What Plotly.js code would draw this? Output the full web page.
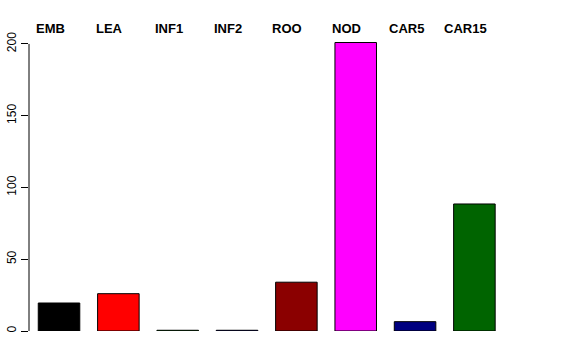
<!DOCTYPE html>
<html>
<head>
<meta charset="utf-8">
<script src="https://cdn.plot.ly/plotly-3.0.1.min.js"></script>
<style>html,body{margin:0;padding:0;background:#fff;}#chart{width:576px;height:360px;}</style>
</head>
<body>
<div id="chart"></div>
<script>
var categories = ["EMB", "LEA", "INF1", "INF2", "ROO", "NOD", "CAR5", "CAR15"];
var values = [19.5, 26, 0.5, 0.5, 34, 201, 6.5, 88.5];
var barColors = ["#000000", "#FF0000", "#00CD00", "#0000FF", "#8B0000", "#FF00FF", "#000080", "#006400"];
var yTicks = [0, 50, 100, 150, 200];

var xs = categories.map(function(_, i){ return i; });

var trace = {
  type: "bar",
  x: xs,
  y: values,
  width: 0.7,
  marker: {color: barColors, line: {color: "#000000", width: 1}},
  hoverinfo: "none"
};

var annotations = categories.map(function(c, i){
  return {
    x: i, y: 1, xref: "x", yref: "paper",
    text: "<b>" + c + "</b>", showarrow: false,
    xanchor: "center", yanchor: "middle", xshift: -9, yshift: 0,
    font: {family: "Liberation Sans, Arial, sans-serif", size: 13, color: "#000"}
  };
});

var layout = {
  width: 576, height: 360,
  margin: {l: 29, r: 66, t: 28, b: 29},
  paper_bgcolor: "#fff", plot_bgcolor: "#fff",
  showlegend: false,
  xaxis: {range: [-0.506, 7.6], showticklabels: false, showgrid: false, zeroline: false, showline: false, ticks: ""},
  yaxis: {
    range: [0, 211.1], tickvals: yTicks, ticktext: yTicks.map(String),
    tickangle: -90, ticks: "outside", ticklen: 7, tickcolor: "#000", tickwidth: 1,
    showgrid: false, zeroline: false, showline: false,
    tickfont: {family: "Liberation Sans, Arial, sans-serif", size: 12, color: "#000"}
  },
  shapes: [{type: "line", xref: "paper", yref: "y", x0: 0, x1: 0, y0: yTicks[0], y1: yTicks[yTicks.length-1], line: {color: "#000", width: 1}}],
  annotations: annotations
};

Plotly.newPlot("chart", [trace], layout, {staticPlot: true, displayModeBar: false});
</script>
</body>
</html>
